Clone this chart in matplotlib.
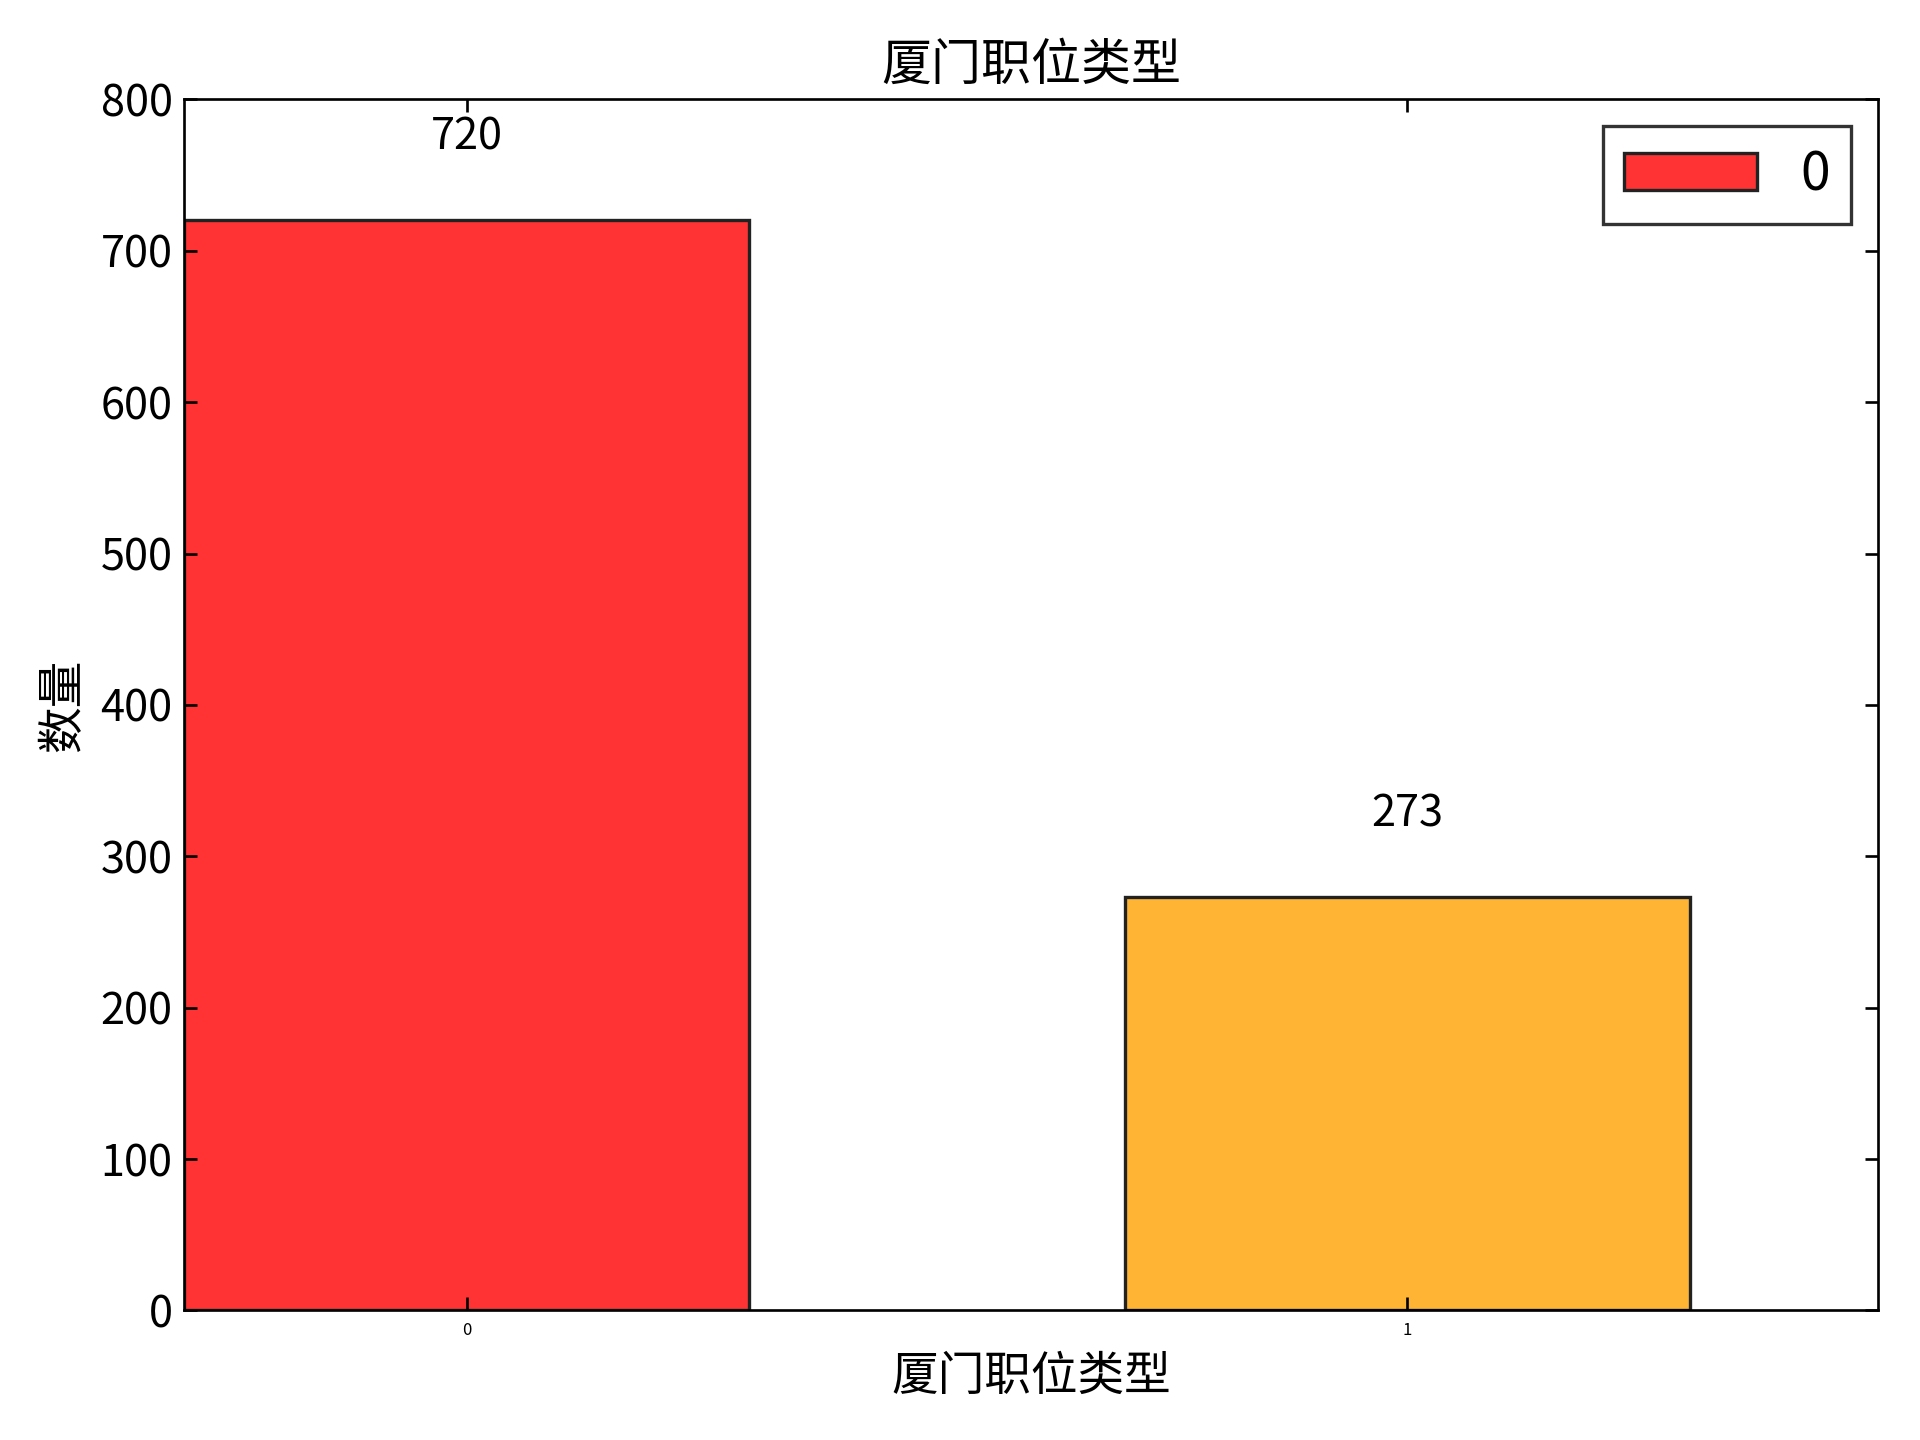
import matplotlib
matplotlib.use("Agg")
import matplotlib.pyplot as plt

plt.rcParams['font.family'] = ['Noto Sans CJK SC', 'DejaVu Sans']

categories = ['0', '1']
counts = [720, 273]
colors = ['#ff3333', '#ffb533']

fig = plt.figure(figsize=(8, 6), dpi=240)
ax = fig.add_axes([0.096, 0.09, 0.882, 0.841])
bars = ax.bar(range(len(counts)), counts, width=0.6, color=colors,
              edgecolor='#222222', linewidth=1.0, align='center')
for b, v in zip(bars, counts):
    ax.text(b.get_x() + b.get_width() / 2, v + 40, str(v),
            ha='center', va='bottom', fontsize=13)

ax.set_xlim(-0.3, 1.5)
ax.set_ylim(0, 800)
ax.set_xticks(range(len(counts)))
ax.set_xticklabels(categories, fontsize=5)
ax.tick_params(axis='y', labelsize=13)
ax.tick_params(direction='in', top=True, right=True, length=4)
ax.set_title('厦门职位类型', fontsize=15)
ax.set_xlabel('厦门职位类型', fontsize=14)
ax.set_ylabel('数量', fontsize=14)
leg = ax.legend([bars[0]], ['0'], loc='upper right', fontsize=16,
                fancybox=False, edgecolor='black', handlelength=2.5)
leg.get_frame().set_linewidth(1.0)

fig.savefig('out.png')
